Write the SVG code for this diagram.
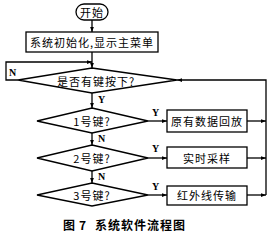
<svg xmlns="http://www.w3.org/2000/svg" width="270" height="236" viewBox="0 0 270 236">
<defs>
<marker id="ah" viewBox="0 0 8 8" refX="8" refY="4" markerWidth="5" markerHeight="5" orient="auto" markerUnits="userSpaceOnUse">
<path d="M0,1 L8,4 L0,7 Z" fill="#000"/>
</marker>
</defs>
<style>
.s{fill:#fff;stroke:#000;stroke-width:1.3}
.c{fill:none;stroke:#000;stroke-width:1.3}
.t{font-family:"Noto Sans CJK SC","Noto Sans CJK JP",sans-serif;font-size:11px;fill:#000;text-anchor:middle;dominant-baseline:central;letter-spacing:1px}
.l{font-family:"Liberation Serif",serif;font-size:10px;font-weight:bold;fill:#000}
.cap{font-family:"Noto Sans CJK SC",sans-serif;font-size:12px;font-weight:bold;fill:#000;letter-spacing:1px}
</style>
<rect width="270" height="236" fill="#fff"/>
<g id="connectors">
<line class="c" x1="92" y1="20" x2="92" y2="32" marker-end="url(#ah)"/>
<line class="c" x1="92" y1="52" x2="92" y2="68" marker-end="url(#ah)"/>
<polyline class="c" points="18,80 6,80 6,62 92,62" marker-end="url(#ah)"/>
<line class="c" x1="92" y1="93" x2="92" y2="108" marker-end="url(#ah)"/>
<line class="c" x1="92" y1="133" x2="92" y2="145" marker-end="url(#ah)"/>
<line class="c" x1="92" y1="171" x2="92" y2="183" marker-end="url(#ah)"/>
<line class="c" x1="148" y1="121" x2="167" y2="121" marker-end="url(#ah)"/>
<line class="c" x1="148" y1="158" x2="167" y2="158" marker-end="url(#ah)"/>
<line class="c" x1="148" y1="195" x2="167" y2="195" marker-end="url(#ah)"/>
<line class="c" x1="247" y1="121" x2="266" y2="121" marker-end="url(#ah)"/>
<line class="c" x1="247" y1="158" x2="266" y2="158" marker-end="url(#ah)"/>
<line class="c" x1="247" y1="195" x2="266" y2="195" marker-end="url(#ah)"/>
<polyline class="c" points="266,195 266,80 177,80" marker-end="url(#ah)"/>
<text class="l" x="9" y="76">N</text>
<text class="l" x="98" y="103">Y</text>
<text class="l" x="98" y="142">N</text>
<text class="l" x="98" y="180">N</text>
<text class="l" x="152" y="116">Y</text>
<text class="l" x="152" y="152">Y</text>
<text class="l" x="152" y="190">Y</text>
</g>
<g id="start"><rect class="s" x="76" y="4" width="32" height="16" rx="8"/><text class="t" x="92" y="12">开始</text></g>
<g id="init"><rect class="s" x="26" y="32" width="132" height="20"/><text class="t" x="92" y="42">系统初始化,显示主菜单</text></g>
<g id="d0"><polygon class="s" points="92,68 177,80 92,93 18,80"/><text class="t" x="96" y="81">是否有键按下?</text></g>
<g id="d1"><polygon class="s" points="92,108 148,121 92,133 37,121"/><text class="t" x="92" y="121">1号键?</text></g>
<g id="d2"><polygon class="s" points="92,145 148,158 92,171 37,158"/><text class="t" x="92" y="158">2号键?</text></g>
<g id="d3"><polygon class="s" points="92,183 148,195 92,206 37,195"/><text class="t" x="92" y="195">3号键?</text></g>
<g id="b1"><rect class="s" x="167" y="110" width="80" height="22"/><text class="t" x="207" y="121">原有数据回放</text></g>
<g id="b2"><rect class="s" x="167" y="147" width="80" height="21"/><text class="t" x="207" y="158">实时采样</text></g>
<g id="b3"><rect class="s" x="167" y="186" width="80" height="19"/><text class="t" x="207" y="195">红外线传输</text></g>
<text class="cap" x="63" y="230">图<tspan x="79">7</tspan><tspan x="95">系统软件流程图</tspan></text>
</svg>
